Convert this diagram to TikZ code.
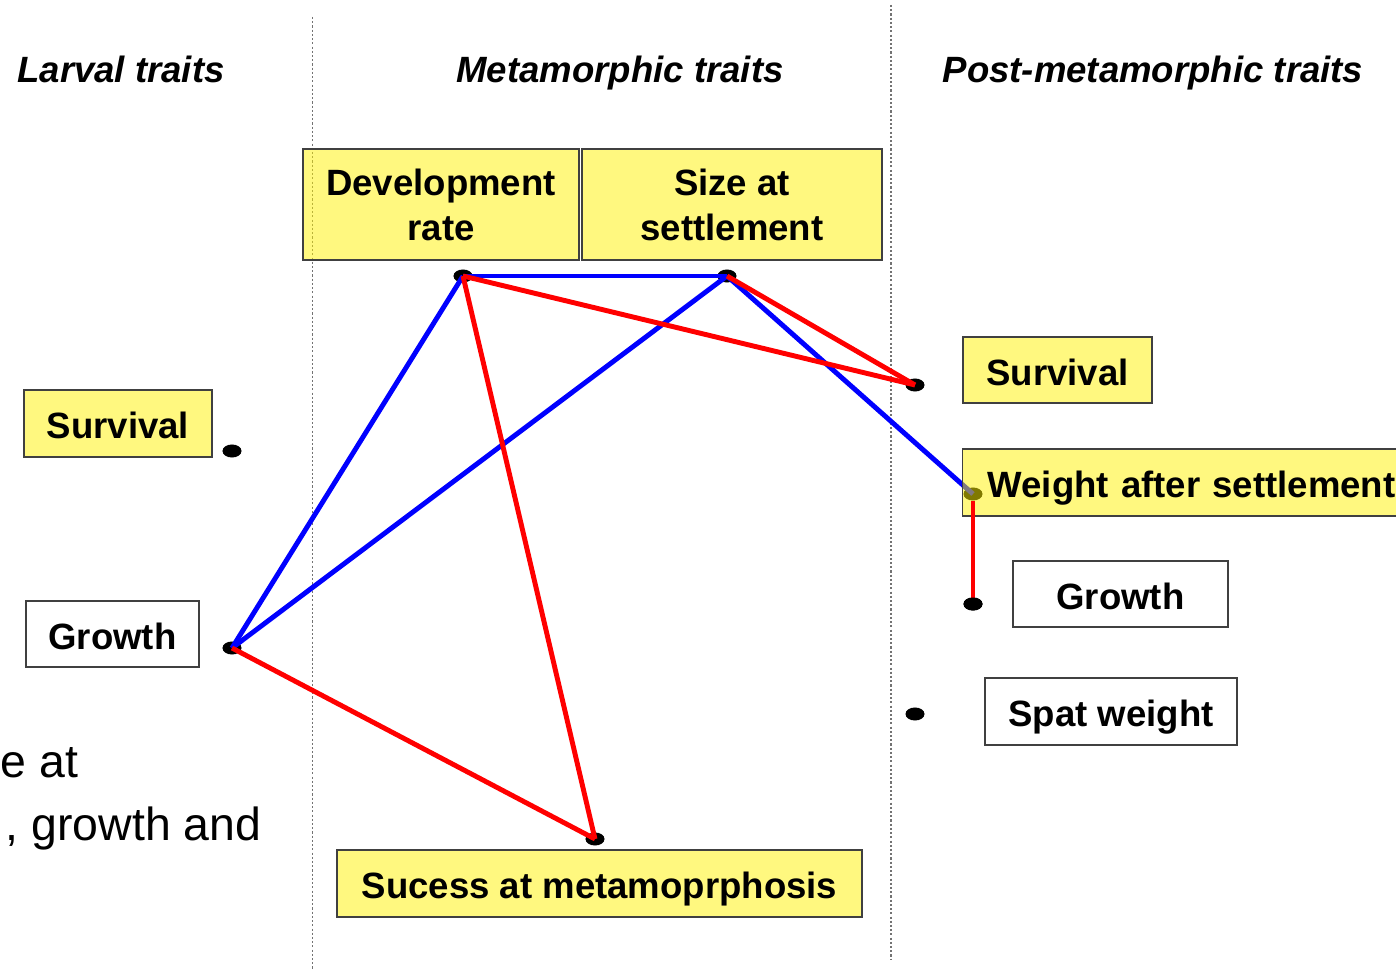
\documentclass[tikz,border=0pt]{standalone}
\usepackage{fontspec}
\setmainfont{Liberation Sans}
\usetikzlibrary{shapes.geometric}
\begin{document}
\begin{tikzpicture}[x=0.01cm,y=-0.01cm,
  box/.style={draw=black!75, line width=0.4pt, fill=yellow, fill opacity=0.5, text opacity=1,
    inner sep=0pt, align=center, font=\fontsize{10.4}{12.8}\selectfont\bfseries},
  wbox/.style={draw=black!75, line width=0.4pt, fill=white, inner sep=0pt, align=center,
    font=\fontsize{10.4}{12.8}\selectfont\bfseries},
  oneline/.style={text height=8.6pt, text depth=0pt},
  head/.style={anchor=base, inner sep=0pt, font=\fontsize{10.4}{12.8}\selectfont\bfseries\itshape},
  body/.style={inner sep=0pt, font=\fontsize{13.2}{15}\selectfont},
  dot/.style={ellipse, fill=black, minimum width=0.19cm, minimum height=0.13cm, inner sep=0pt},
  sepline/.style={draw=black!55, line width=0.5pt, dash pattern=on 0.6pt off 0.6pt},
  poslink/.style={line width=1.4pt, blue},
  neglink/.style={line width=1.4pt, red}]
\clip (0,0) rectangle (1396,973);
\fill[white] (0,0) rectangle (1396,973);

% separators
\coordinate (s1t) at (312.5,17);
\coordinate (s1b) at (312.5,970);
\coordinate (s2t) at (891,5);
\coordinate (s2b) at (891,960);
\draw[sepline] (s1t) -- (s1b);
\draw[sepline] (s2t) -- (s2b);

% headings
\node[head] (h1) at (121,83) {Larval traits};
\node[head] (h2) at (620,83) {Metamorphic traits};
\node[head] (h3) at (1153,83) {Post-metamorphic traits};

% boxes
\node[box, minimum width=2.76cm, minimum height=1.11cm] (dev) at (441,204.5) {Development\\rate};
\node[box, minimum width=3.00cm, minimum height=1.11cm] (size) at (732,204.5) {Size at\\settlement};
\node[box, oneline, minimum width=1.88cm, minimum height=0.67cm] (survL) at (118,423.5) {Survival};
\node[wbox, oneline, minimum width=1.73cm, minimum height=0.66cm] (growL) at (112.5,634) {Growth};
\node[box, oneline, minimum width=1.89cm, minimum height=0.66cm] (survR) at (1057.5,370) {Survival};
\node[wbox, oneline, minimum width=2.15cm, minimum height=0.66cm] (growR) at (1120.5,594) {Growth};
\node[wbox, oneline, minimum width=2.52cm, minimum height=0.67cm] (spat) at (1111,711.5) {Spat weight};
\node[box, oneline, minimum width=5.25cm, minimum height=0.67cm] (succ) at (599.5,883.5) {Sucess at metamoprphosis};

% body text fragments
\node[body, anchor=base west] (t1) at (0,777) {e at};
\node[body, anchor=base east] (t2) at (262,840) {, growth and};

% dots
\node[dot] (dDev) at (463,276) {};
\node[dot] (dSize) at (727,276) {};
\node[dot] (dSurvR) at (915,385) {};
\node[dot] (dSurvL) at (232,451) {};
\node[dot] (dGrowL) at (232,648) {};
\node[dot] (dWeight) at (973,494) {};
\node[dot] (dGrowR) at (973,604) {};
\node[dot] (dSpat) at (915,714) {};
\node[dot] (dSucc) at (595,839) {};

% positive (blue) links
\draw[poslink] (dDev.center) -- (dSize.center);
\draw[poslink] (dDev.center) -- (dGrowL.center);
\draw[poslink] (dSize.center) -- (dGrowL.center);
\draw[poslink] (dSize.center) -- (dWeight.center);

% weight box (semi-transparent, over its dot)
\node[box, oneline, anchor=west, minimum height=0.67cm, inner xsep=0.25cm, text width=4.4cm, align=left] (weight) at (962,482.5) {Weight after settlement};

% negative (red) links
\draw[neglink] (dDev.center) -- (dSurvR.center);
\draw[neglink] (dSize.center) -- (dSurvR.center);
\draw[neglink] (dDev.center) -- (dSucc.center);
\draw[neglink] (dGrowL.center) -- (dSucc.center);
\draw[neglink] (dWeight.south) -- (dGrowR.center);
\node[dot] at (dGrowR.center) {};
\end{tikzpicture}
\end{document}
